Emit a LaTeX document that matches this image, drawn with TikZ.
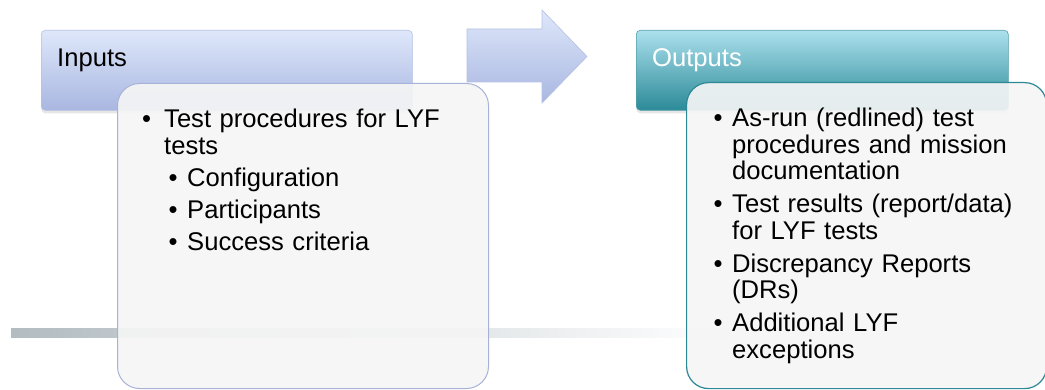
\documentclass[tikz,border=0pt]{standalone}
\usepackage{fontspec}
\setmainfont{Liberation Sans}
\usetikzlibrary{positioning,shadows}
\definecolor{inTop}{HTML}{DEE7FA}
\definecolor{inBot}{HTML}{A9B7E1}
\definecolor{inEdge}{HTML}{B5C1E5}
\definecolor{inLine}{HTML}{A7B2D6}
\definecolor{outTop}{HTML}{ACE0ED}
\definecolor{outMid}{HTML}{6DBAC8}
\definecolor{outBot}{HTML}{2B8A98}
\definecolor{outLine}{HTML}{2E8795}
\definecolor{panelFill}{HTML}{F5F5F5}
\definecolor{barGray}{HTML}{B2BCC1}
\newcommand\inbul[1]{\leftskip=22pt\noindent\llap{\textbullet\hspace{13pt}}#1}
\newcommand\insub[1]{\leftskip=45pt\noindent\llap{\textbullet\hspace{9.5pt}}#1}
\newcommand\outbul[1]{\leftskip=18.5pt\noindent\llap{\textbullet\hspace{9.5pt}}#1}
\newcommand\itemgap[1][5.5pt]{\par\vspace{#1}}
\tikzset{
  headbox/.style ={rounded corners=4pt,anchor=north west,inner sep=0pt,
                   minimum width=371pt,minimum height=80pt,
                   drop shadow={opacity=0.2,shadow xshift=0pt,shadow yshift=-3pt}},
  inhead/.style  ={headbox,top color=inTop,bottom color=inBot,draw=inEdge,line width=0.6pt},
  outhead/.style ={headbox,top color=outTop,middle color=outMid,bottom color=outBot,draw=outBot!80,line width=0.6pt},
  panel/.style   ={rounded corners=22pt,anchor=north west,inner sep=0pt,
                   fill=panelFill,fill opacity=0.92,line width=1pt},
  headtext/.style={anchor=base west,inner sep=0pt,font=\fontsize{25.6}{26.5}\selectfont},
  listtext/.style={anchor=base west,inner sep=0pt,align=left,font=\fontsize{25.6}{26.5}\selectfont}
}
\begin{document}
\begin{tikzpicture}[x=1pt,y=-1pt]
  \useasboundingbox (0,0) rectangle (1045,390);
  % fading rule behind the panels
  \shade[left color=barGray,right color=white] (11,329) rectangle (730,337);
  \node[inhead] (inbox) at (41,30) {};
  \node[panel,draw=inLine,minimum width=371pt,minimum height=305pt] (inpanel) at (117,83) {};
  % block arrow
  \path[top color=inTop,bottom color=inBot,draw=inEdge,line width=0.6pt]
    (467,29) -- (542,29) -- (542,10) -- (587,56.5) -- (542,103) -- (542,82) -- (467,82) -- cycle;
  \node[outhead,minimum width=372pt] (outbox) at (636,30) {};
  \node[panel,draw=outLine,line width=1.2pt,minimum width=360pt,minimum height=306pt] (outpanel) at (686,82) {};
  \node[headtext] (intitle) at (57,67) {Inputs};
  \node[headtext,text=white] (outtitle) at (652,67) {Outputs};
  \node[listtext,text width=320pt] (inlist) at (142,128) {%
    \inbul{Test procedures for LYF\\tests}\itemgap
    \insub{Configuration}\itemgap
    \insub{Participants}\itemgap
    \insub{Success criteria}\par};
  \node[listtext,text width=320pt] (outlist) at (713.5,127) {%
    \outbul{As-run (redlined) test\\procedures and mission\\documentation}\itemgap[6.5pt]
    \outbul{Test results (report/data)\\for LYF tests}\itemgap[6.5pt]
    \outbul{Discrepancy Reports\\(DRs)}\itemgap[6.5pt]
    \outbul{Additional LYF\\exceptions}\par};
\end{tikzpicture}
\end{document}
